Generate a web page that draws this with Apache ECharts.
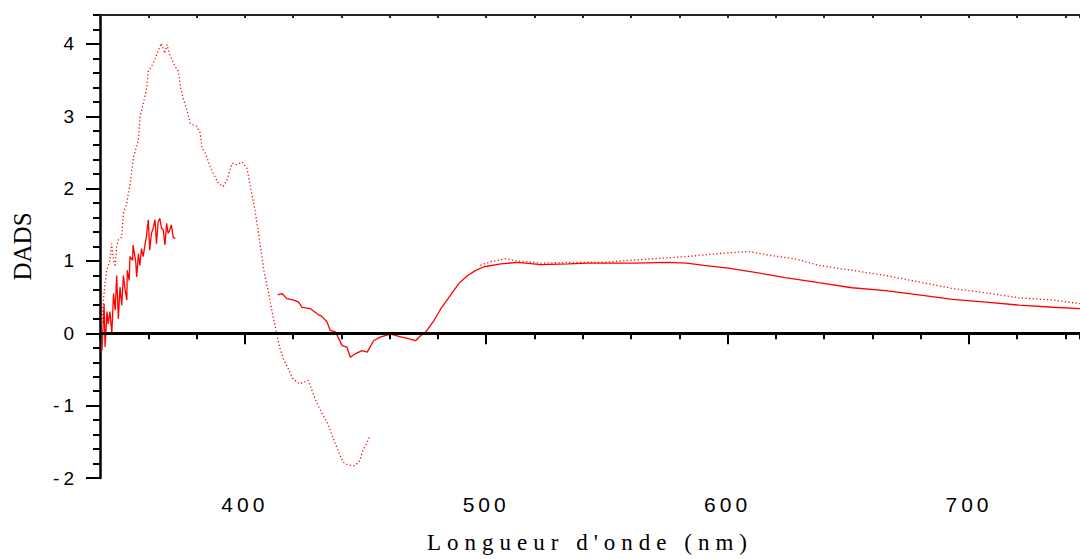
<!DOCTYPE html>
<html>
<head>
<meta charset="utf-8">
<script src="https://cdn.jsdelivr.net/npm/echarts@6/dist/echarts.min.js"></script>
<style>
  html, body { margin: 0; padding: 0; background: #fff; }
  #chart { width: 1080px; height: 559px; }
  #chart text { letter-spacing: 4px; }
</style>
</head>
<body>
<div id="chart"></div>
<script>
const xName = "Longueur d'onde (nm)";
const yName = 'DADS';
const xMajorTicks = [400, 500, 600, 700];
const yMajorTicks = [-2, -1, 0, 1, 2, 3, 4];

// dotted curve, UV part (big peak then negative dip)
const dottedLeft = [
  [340.8, 0.15], [341.4, 0.46], [342.1, 0.69], [342.8, 0.87], [344.1, 1.01], [344.8, 1.24],
  [345.5, 1.05], [346.3, 0.92], [346.9, 1.20], [347.6, 1.29], [349.0, 1.33], [349.7, 1.66],
  [351.1, 1.80], [352.4, 2.05], [353.9, 2.44], [355.9, 2.67], [356.6, 3.00], [358.0, 3.18],
  [359.4, 3.41], [360.0, 3.62], [361.4, 3.69], [362.9, 3.80], [364.3, 3.92], [365.4, 4.01],
  [366.8, 3.87], [367.7, 3.99], [369.1, 3.83], [371.1, 3.69], [372.5, 3.62], [373.3, 3.41],
  [374.6, 3.23], [376.0, 3.09], [377.4, 2.90], [380.1, 2.86], [381.5, 2.77], [382.3, 2.56],
  [383.6, 2.49], [385.7, 2.30], [387.7, 2.16], [389.1, 2.07], [391.1, 2.03], [392.6, 2.12],
  [394.7, 2.35], [396.7, 2.33], [398.8, 2.37], [400.9, 2.28], [402.3, 2.03], [403.4, 1.84],
  [404.2, 1.70], [405.6, 1.40], [407.9, 0.87], [409.6, 0.60], [411.4, 0.28], [413.2, 0.00],
  [414.4, -0.19], [415.9, -0.35], [418.0, -0.49], [420.0, -0.63], [422.7, -0.70], [426.2, -0.65],
  [427.6, -0.77], [429.7, -0.95], [431.7, -1.09], [434.4, -1.25], [436.5, -1.44], [438.6, -1.62],
  [440.7, -1.78], [442.8, -1.82], [445.6, -1.83], [447.6, -1.76], [448.9, -1.62], [451.1, -1.48],
  [451.8, -1.41]
];

// solid noisy curve at the far left
const solidLeft = [
  [340.8, -0.24], [341.7, 0.41], [342.1, -0.19], [342.9, 0.30], [343.4, 0.13], [344.1, 0.30],
  [344.9, 0.00], [345.6, 0.55], [346.3, 0.32], [346.9, 0.80], [347.6, 0.20], [348.3, 0.64],
  [349.0, 0.39], [349.7, 0.80], [350.4, 0.60], [351.1, 0.46], [351.3, 0.87], [352.1, 0.73],
  [352.4, 1.06], [353.5, 1.01], [353.7, 1.22], [354.8, 0.99], [355.2, 0.78], [355.9, 1.10],
  [356.5, 0.94], [357.2, 1.17], [357.9, 1.06], [358.6, 1.22], [359.2, 1.33], [360.0, 1.57],
  [360.6, 1.15], [361.3, 1.38], [362.0, 1.45], [362.8, 1.57], [363.4, 1.24], [364.1, 1.54],
  [364.8, 1.59], [365.5, 1.45], [366.2, 1.43], [366.9, 1.22], [367.6, 1.52], [368.2, 1.38],
  [368.9, 1.43], [369.6, 1.50], [370.3, 1.33], [371.2, 1.31]
];

// solid curve, visible part
const solidRight = [
  [413.6, 0.53], [415.4, 0.55], [417.4, 0.48], [420.3, 0.46], [422.3, 0.43], [423.7, 0.36],
  [427.2, 0.34], [429.9, 0.27], [432.0, 0.23], [434.0, 0.16], [435.4, 0.04], [437.5, 0.02],
  [438.9, -0.07], [440.3, -0.17], [442.3, -0.19], [443.7, -0.33], [445.9, -0.28], [448.6, -0.24],
  [450.7, -0.26], [453.4, -0.10], [456.3, -0.05], [460.4, -0.01], [464.6, -0.05], [467.3, -0.07],
  [470.8, -0.10], [472.9, -0.03], [475.0, 0.02], [478.4, 0.18], [481.2, 0.34], [485.3, 0.53],
  [488.7, 0.69], [492.3, 0.80], [495.7, 0.87], [499.1, 0.92], [506.1, 0.96], [513.0, 0.98],
  [522.7, 0.95], [533.9, 0.96], [542.2, 0.97], [547.6, 0.97], [561.5, 0.97], [575.4, 0.98],
  [583.0, 0.97], [590.2, 0.94], [600.3, 0.90], [610.1, 0.85], [623.9, 0.77], [637.7, 0.70],
  [651.6, 0.63], [665.4, 0.59], [679.3, 0.53], [693.2, 0.47], [707.0, 0.43], [720.8, 0.39],
  [734.7, 0.36], [746.0, 0.34]
];

// dotted curve, visible part
const dottedRight = [
  [497.6, 0.94], [501.9, 0.99], [508.1, 1.03], [512.9, 1.00], [522.7, 0.97], [533.9, 0.98],
  [547.6, 0.98], [568.7, 1.03], [582.5, 1.06], [589.2, 1.08], [599.0, 1.11], [608.7, 1.13],
  [617.0, 1.08], [628.0, 1.03], [637.7, 0.94], [651.6, 0.87], [665.4, 0.80], [679.3, 0.71],
  [693.2, 0.62], [707.0, 0.56], [720.8, 0.49], [734.7, 0.46], [746.0, 0.41]
];

const red = '#ff0000';
const dotted = { color: red, width: 1.3, type: [1.2, 2.4] };
const solid = { color: red, width: 1.3 };

const chart = echarts.init(document.getElementById('chart'), null, { renderer: 'svg' });

const line = (data, lineStyle, extra) => Object.assign({
  type: 'line',
  data: data,
  symbol: 'none',
  showSymbol: false,
  silent: true,
  xAxisIndex: 0,
  yAxisIndex: 0,
  lineStyle: lineStyle,
}, extra || {});

chart.setOption({
  animation: false,
  backgroundColor: '#fff',
  grid: { left: 100, right: 0, top: 15, bottom: 81 },
  xAxis: [
    {
      type: 'value',
      position: 'bottom',
      min: 340,
      max: 746,
      name: xName,
      nameLocation: 'middle',
      nameGap: 53,
      nameTextStyle: { fontFamily: 'Liberation Serif', fontSize: 23, color: '#000' },
      axisLine: { show: true, lineStyle: { color: '#000', width: 2.5 } },
      axisTick: { show: true, customValues: xMajorTicks, length: 11, lineStyle: { color: '#000', width: 2 } },
      axisLabel: { customValues: xMajorTicks, fontFamily: 'Liberation Sans', fontSize: 21, color: '#000', margin: 16 },
      splitLine: { show: false },
    },
    {
      type: 'value',
      position: 'bottom',
      min: 340,
      max: 746,
      interval: 20,
      axisLine: { show: false },
      axisTick: { show: true, length: 6, lineStyle: { color: '#000', width: 2 } },
      axisLabel: { show: false },
      splitLine: { show: false },
    },
    {
      type: 'value',
      position: 'top',
      min: 340,
      max: 746,
      interval: 20,
      axisLine: { show: true, lineStyle: { color: '#222', width: 2 } },
      axisTick: { show: true, inside: true, length: 3, lineStyle: { color: '#222', width: 2 } },
      axisLabel: { show: false },
      splitLine: { show: false },
    },
  ],
  yAxis: [
    {
      type: 'value',
      position: 'left',
      min: -2,
      max: 4.4,
      name: yName,
      nameLocation: 'middle',
      nameGap: 65,
      nameTextStyle: { fontFamily: 'Liberation Serif', fontSize: 25, color: '#000' },
      axisLine: { show: true, lineStyle: { color: '#000', width: 2.5 } },
      axisTick: { show: true, customValues: yMajorTicks, length: 14, lineStyle: { color: '#000', width: 2 } },
      axisLabel: { customValues: yMajorTicks, fontFamily: 'Liberation Sans', fontSize: 19, color: '#000', margin: 22 },
      splitLine: { show: false },
    },
    {
      type: 'value',
      position: 'left',
      min: -2,
      max: 4.4,
      interval: 0.2,
      axisLine: { show: false },
      axisTick: { show: true, length: 7, lineStyle: { color: '#000', width: 2 } },
      axisLabel: { show: false },
      splitLine: { show: false },
    },
  ],
  series: [
    line(dottedLeft, dotted),
    line(solidLeft, solid),
    line(dottedRight, dotted),
    line(solidRight, solid, {
      markLine: {
        silent: true,
        symbol: ['none', 'none'],
        label: { show: false },
        lineStyle: { color: '#000', width: 3, type: 'solid' },
        data: [{ yAxis: 0 }],
      },
    }),
  ],
});

// axis title spacing like the original print
document.querySelectorAll('#chart text').forEach((t) => {
  if (t.textContent === xName) t.style.letterSpacing = '6px';
  if (t.textContent === yName) t.style.letterSpacing = '0px';
});
</script>
</body>
</html>
